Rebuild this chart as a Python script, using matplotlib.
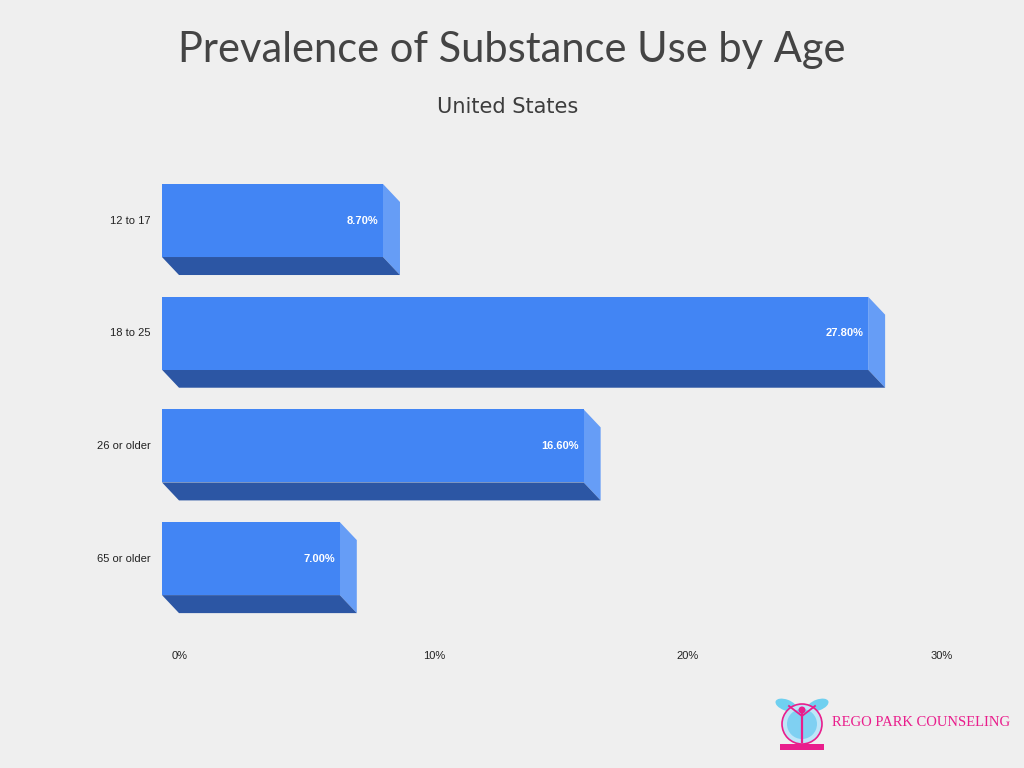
import matplotlib
matplotlib.use("Agg")
import matplotlib.pyplot as plt
from matplotlib.patches import Polygon, Circle, Ellipse
from matplotlib.transforms import ScaledTranslation, blended_transform_factory

categories = ["12 to 17", "18 to 25", "26 or older", "65 or older"]
values = [8.7, 27.8, 16.6, 7.0]
value_labels = ["8.70%", "27.80%", "16.60%", "7.00%"]
xticks = [0, 10, 20, 30]
xtick_labels = ["0%", "10%", "20%", "30%"]

BG = "#efefef"
FRONT = "#4285f4"
SIDE = "#669df6"
BOTTOM = "#2c56a4"

W, H = 1024, 768
fig = plt.figure(figsize=(W / 100, H / 100), dpi=100, facecolor=BG)

ax_top, ax_bot = 150, 630
ax = fig.add_axes([162 / W, 1 - ax_bot / H, 762 / W, (ax_bot - ax_top) / H])
ax.set_facecolor(BG)
ax.set_xlim(0, 30)
y0 = (ax_top - 220.5) / 112.7
y1 = (ax_bot - 220.5) / 112.7
ax.set_ylim(y1, y0)
for s in ax.spines.values():
    s.set_visible(False)
ax.set_xticks([])
ax.set_yticks([])

bh = 0.648
dx = 17 / 25.4
dy = 18 / 112.7

for i, v in enumerate(values):
    top = i - bh / 2
    bot = i + bh / 2
    ax.barh(i, v, height=bh, color=FRONT, edgecolor="none", zorder=3)
    ax.add_patch(Polygon([(v, top), (v + dx, top + dy), (v + dx, bot + dy), (v, bot)],
                         closed=True, facecolor=SIDE, edgecolor="none", zorder=2))
    ax.add_patch(Polygon([(0, bot), (v, bot), (v + dx, bot + dy), (dx, bot + dy)],
                         closed=True, facecolor=BOTTOM, edgecolor="none", zorder=2))
    ax.text(v, i, value_labels[i], ha="right", va="center", color="white",
            fontsize=8, fontweight="bold", family="Liberation Sans", zorder=4,
            transform=ax.transData + ScaledTranslation(-5 / 100, 0, fig.dpi_scale_trans))
    ax.text(0, i, categories[i], ha="right", va="center", color="#222222",
            fontsize=8, family="Liberation Sans",
            transform=ax.transData + ScaledTranslation(-11 / 100, 0, fig.dpi_scale_trans))

tr = blended_transform_factory(ax.transData, fig.transFigure)
for t, lab in zip(xticks, xtick_labels):
    ax.text(t, 1 - 656 / H, lab, ha="center", va="center", color="#222222",
            fontsize=8, family="Liberation Sans",
            transform=tr + ScaledTranslation(18 / 100, 0, fig.dpi_scale_trans))

fig.text(512 / W, 1 - 50 / H, "Prevalence of Substance Use by Age", ha="center", va="center",
         fontsize=30, color="#444444", family="Lato")
fig.text(508 / W, 1 - 107 / H, "United States", ha="center", va="center",
         fontsize=15, color="#3d3d3d", family="DejaVu Sans")

# logo
lax = fig.add_axes([772 / W, 1 - 756 / H, 60 / W, 60 / H])
lax.set_xlim(0, 60)
lax.set_ylim(0, 60)
lax.set_aspect("equal")
lax.axis("off")
lax.add_patch(Ellipse((14, 51), 22, 11, angle=-20, facecolor="#6fd0f0", edgecolor="none"))
lax.add_patch(Ellipse((46, 51), 22, 11, angle=20, facecolor="#6fd0f0", edgecolor="none"))
lax.add_patch(Circle((30, 32), 20, facecolor="#bfe6f8", edgecolor="#e91e8c", lw=1.2))
lax.add_patch(Circle((30, 32), 15, facecolor="#7fd0f2", edgecolor="none"))
lax.add_patch(Circle((30, 46), 3.5, facecolor="#e91e8c", edgecolor="none"))
lax.plot([30, 30], [43, 14], color="#e91e8c", lw=1.6)
lax.plot([17, 30, 43], [50, 40, 50], color="#e91e8c", lw=1.3)
lax.add_patch(Polygon([(8, 6), (52, 6), (52, 12), (8, 12)], closed=True,
                      facecolor="#e91e8c", edgecolor="none"))
fig.text(832 / W, 1 - 723 / H, "REGO PARK COUNSELING", ha="left", va="center",
         fontsize=10.5, color="#e91e8c", family="Liberation Serif")

fig.savefig("out.png", dpi=100, facecolor=BG)
